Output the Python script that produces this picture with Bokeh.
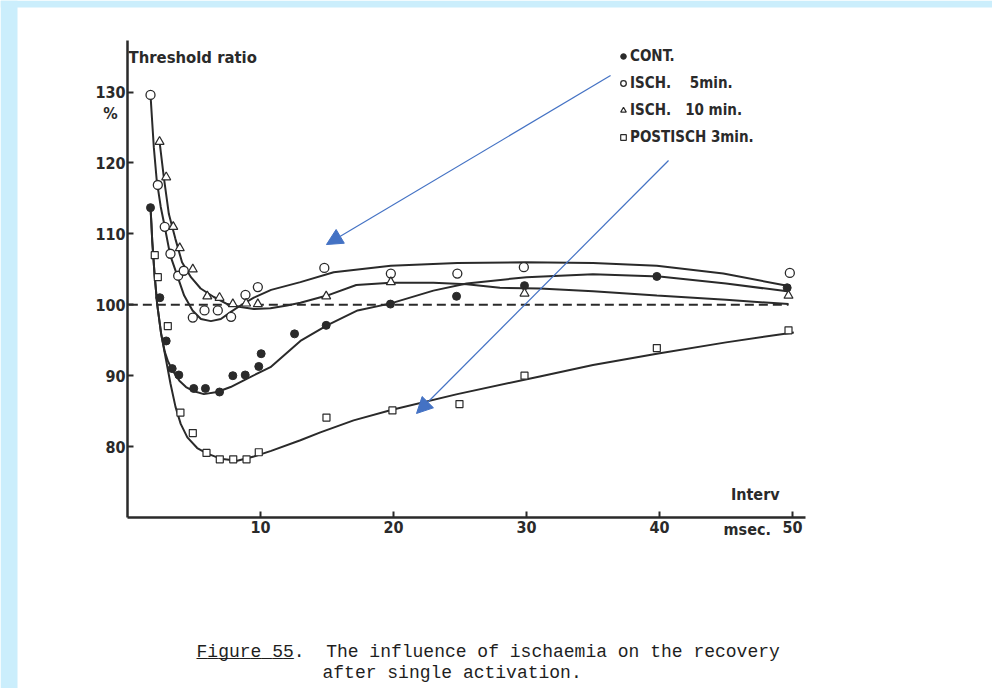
from bokeh.plotting import figure
from bokeh.models import (Label, Legend, LegendItem, Arrow, NormalHead,
                          BoxAnnotation, Range1d)
from bokeh.embed import file_html
from bokeh.resources import INLINE

# ---- measured points (interval in msec, threshold ratio in %) ----
cont_x = [1.73, 2.43, 2.91, 3.36, 3.86, 4.98, 5.86, 6.92, 7.92, 8.85, 9.87,
          10.05, 12.56, 14.94, 19.77, 24.74, 29.85, 39.8, 49.6]
cont_y = [113.7, 101.0, 94.9, 91.0, 90.1, 88.2, 88.2, 87.7, 90.0, 90.1, 91.3,
          93.1, 95.9, 97.1, 100.1, 101.2, 102.7, 104.0, 102.4]

isch5_x = [1.73, 2.28, 2.8, 3.23, 3.81, 4.23, 4.91, 5.79, 6.79, 7.79, 8.87,
           9.8, 14.8, 19.8, 24.8, 29.8, 49.8]
isch5_y = [129.6, 116.9, 111.0, 107.2, 104.1, 104.8, 98.2, 99.2, 99.2, 98.3,
           101.4, 102.5, 105.2, 104.4, 104.4, 105.3, 104.5]

isch10_x = [2.41, 2.91, 3.44, 3.93, 4.91, 6.0, 6.92, 7.92, 8.92, 9.8, 14.94,
            19.8, 29.85, 49.7]
isch10_y = [123.0, 118.0, 111.0, 108.0, 105.0, 101.2, 101.0, 100.1, 100.2,
            100.1, 101.2, 103.2, 101.6, 101.3]

post_x = [2.05, 2.28, 3.03, 3.98, 4.91, 5.94, 6.94, 7.95, 8.95, 9.87, 14.96,
          19.92, 24.96, 29.85, 39.8, 49.7]
post_y = [107.0, 103.9, 97.0, 84.8, 81.9, 79.1, 78.2, 78.2, 78.2, 79.2, 84.1,
          85.1, 86.0, 90.0, 93.9, 96.4]

# ---- hand-fitted curves through each series ----
cont_cx = [1.73, 1.8, 1.86, 2.03, 2.23, 2.53, 2.8, 3.05, 3.4, 3.9, 4.4, 5.0,
           5.74, 6.74, 7.75, 9.0, 10.75, 13.0, 15.0, 17.3, 19.8, 23.0, 25.5,
           30.0, 35.0, 40.0, 45.0, 49.6]
cont_cy = [113.7, 111.5, 109.0, 104.4, 100.1, 95.9, 93.4, 92.0, 90.7, 89.3,
           88.4, 87.8, 87.4, 87.7, 88.4, 89.6, 91.2, 94.9, 97.1, 99.2, 100.2,
           102.0, 103.0, 103.9, 104.3, 104.0, 103.0, 101.9]

isch5_cx = [1.73, 1.85, 1.98, 2.2, 2.5, 2.76, 3.21, 3.76, 4.26, 4.89, 5.52,
            6.27, 7.02, 7.77, 8.5, 9.5, 10.8, 13.0, 15.5, 19.8, 24.8, 29.9,
            35.0, 39.8, 44.8, 49.6]
isch5_cy = [129.6, 126.0, 122.2, 117.5, 113.8, 111.4, 107.0, 104.0, 101.3,
            99.2, 98.0, 97.7, 98.0, 99.0, 99.9, 101.0, 102.1, 103.2, 104.6,
            105.5, 105.9, 106.0, 105.9, 105.5, 104.4, 102.7]

isch10_cx = [2.41, 2.73, 3.11, 3.6, 4.1, 4.77, 5.5, 6.49, 7.5, 8.5, 9.5,
             10.75, 12.0, 13.0, 15.0, 17.2, 19.8, 23.0, 25.5, 28.0, 31.0,
             35.0, 39.8, 45.0, 49.7]
isch10_cy = [123.0, 118.0, 112.8, 109.3, 106.0, 103.9, 102.3, 101.1, 100.1,
             99.7, 99.4, 99.5, 99.9, 100.3, 101.3, 102.8, 103.1, 103.1, 102.9,
             102.4, 102.3, 101.9, 101.3, 100.7, 100.1]

post_cx = [1.73, 1.86, 2.03, 2.23, 2.53, 2.86, 3.23, 3.61, 4.0, 4.5, 5.24,
           6.0, 7.0, 8.25, 9.5, 10.8, 13.0, 14.5, 17.0, 19.9, 24.8, 31.0,
           35.0, 39.8, 45.0, 50.1]
post_cy = [113.7, 109.0, 104.4, 100.1, 95.9, 92.6, 88.9, 85.6, 83.2, 81.3,
           79.8, 79.0, 78.3, 78.0, 78.6, 79.4, 80.9, 82.0, 83.7, 85.2, 87.4,
           89.9, 91.5, 93.1, 94.7, 96.1]

reference_level = 100
reference_span = [0.1, 49.7]

x_ticks = [10, 20, 30, 40, 50]
y_ticks = [80, 90, 100, 110, 120, 130]
x_axis_extent = (0, 51.0)
y_axis_extent = (70.0, 137.28)

series_labels = ["CONT.",
                 "ISCH.\u00a0\u00a0\u00a0\u00a05min.",
                 "ISCH.\u00a0\u00a0\u00a010\u00a0min.",
                 "POSTISCH\u00a03min."]

caption_1 = "Figure 55.\u00a0\u00a0The influence of ischaemia on the recovery"
caption_2 = "after single activation."

INK = "#2a2a2a"
LABEL_FONT = "DejaVu Sans Condensed"
CAPTION_FONT = "Liberation Mono"
ARROW_BLUE = "#4472c4"
FRAME_BLUE = "#cbeefc"

# the frame covers the whole page; axes sit at fixed data positions
p = figure(width=992, height=688, output_backend="svg", toolbar_location=None,
           x_range=Range1d(-9.549, 65.038), y_range=Range1d(45.88, 142.92),
           min_border=0)
p.outline_line_color = None
p.grid.visible = False
p.background_fill_color = "white"
p.border_fill_color = "white"

for ax in (p.xaxis, p.yaxis):
    ax.axis_line_width = 2.5
    ax.axis_line_color = INK
    ax.major_tick_line_width = 2
    ax.major_tick_line_color = INK
    ax.major_tick_in = 6
    ax.major_tick_out = 0
    ax.minor_tick_line_color = None
    ax.major_label_text_font = LABEL_FONT
    ax.major_label_text_font_size = "16px"
    ax.major_label_text_font_style = "bold"
    ax.major_label_text_color = INK
p.xaxis.ticker = x_ticks
p.yaxis.ticker = y_ticks
p.xaxis.fixed_location = y_axis_extent[0]
p.yaxis.fixed_location = x_axis_extent[0]
p.xaxis.bounds = x_axis_extent
p.yaxis.bounds = y_axis_extent
p.xaxis.major_label_standoff = 4
p.yaxis.major_label_standoff = 2

# reference level
p.line(reference_span, [reference_level, reference_level], line_color=INK,
       line_width=2, line_dash="9 5")

# fitted curves
for cx, cy in ((cont_cx, cont_cy), (isch5_cx, isch5_cy),
               (isch10_cx, isch10_cy), (post_cx, post_cy)):
    p.line(cx, cy, line_color=INK, line_width=2)

# measured points
r_cont = p.scatter(cont_x, cont_y, marker="circle", size=8,
                   fill_color=INK, line_color=INK)
r_i5 = p.scatter(isch5_x, isch5_y, marker="circle", size=9, fill_color="white",
                 line_color=INK, line_width=1.3)
r_i10 = p.scatter(isch10_x, isch10_y, marker="triangle", size=9,
                  fill_color="white", line_color=INK, line_width=1.2)
r_post = p.scatter(post_x, post_y, marker="square", size=7, fill_color="white",
                   line_color=INK, line_width=1.2)

legend = Legend(items=[LegendItem(label=lab, renderers=[r])
                       for lab, r in zip(series_labels,
                                         [r_cont, r_i5, r_i10, r_post])],
                location=(616, 541), padding=0, margin=0, spacing=7,
                glyph_width=14, glyph_height=20, label_height=20,
                label_standoff=0, border_line_color=None,
                background_fill_alpha=0,
                label_text_font=LABEL_FONT, label_text_font_size="15px",
                label_text_font_style="bold", label_text_color=INK)
p.add_layout(legend)

# axis captions
def label(x, y, text, font=LABEL_FONT, size="16px", style="bold",
          align="left", baseline="middle", color=INK):
    p.add_layout(Label(x=x, y=y, text=text, text_font=font,
                       text_font_size=size, text_font_style=style,
                       text_color=color, text_align=align,
                       text_baseline=baseline))

label(0.08, 134.9, "Threshold ratio", size="16.5px")
label(-1.28, 127.0, "%", align="center")
label(47.2, 73.3, "Interv", align="center")
label(46.6, 68.3, "msec.", align="center")

# figure caption
label(5.19, 50.97, caption_1, font=CAPTION_FONT, size="18px",
      style="normal", baseline="alphabetic", color="#1e1e1e")
label(5.19, 50.97, "_________", font=CAPTION_FONT, size="18px",
      style="normal", baseline="alphabetic", color="#1e1e1e")
label(14.66, 48.0, caption_2, font=CAPTION_FONT, size="18px",
      style="normal", baseline="alphabetic", color="#1e1e1e")

# pointer arrows
arrow_starts = [(36.32, 132.34), (40.68, 120.35)]
arrow_ends = [(14.96, 108.5), (21.73, 84.67)]
for (xs, ys), (xe, ye) in zip(arrow_starts, arrow_ends):
    p.add_layout(Arrow(x_start=xs, y_start=ys, x_end=xe, y_end=ye,
                       line_color=ARROW_BLUE, line_width=1.2,
                       end=NormalHead(size=16, fill_color=ARROW_BLUE,
                                      line_color=ARROW_BLUE, line_width=1)))

# page margin bands
p.add_layout(BoxAnnotation(right=-8.27, fill_color=FRAME_BLUE, fill_alpha=1,
                           line_color=None))
p.add_layout(BoxAnnotation(bottom=141.93, fill_color=FRAME_BLUE, fill_alpha=1,
                           line_color=None))

open("out.html", "w").write(file_html(p, INLINE))
